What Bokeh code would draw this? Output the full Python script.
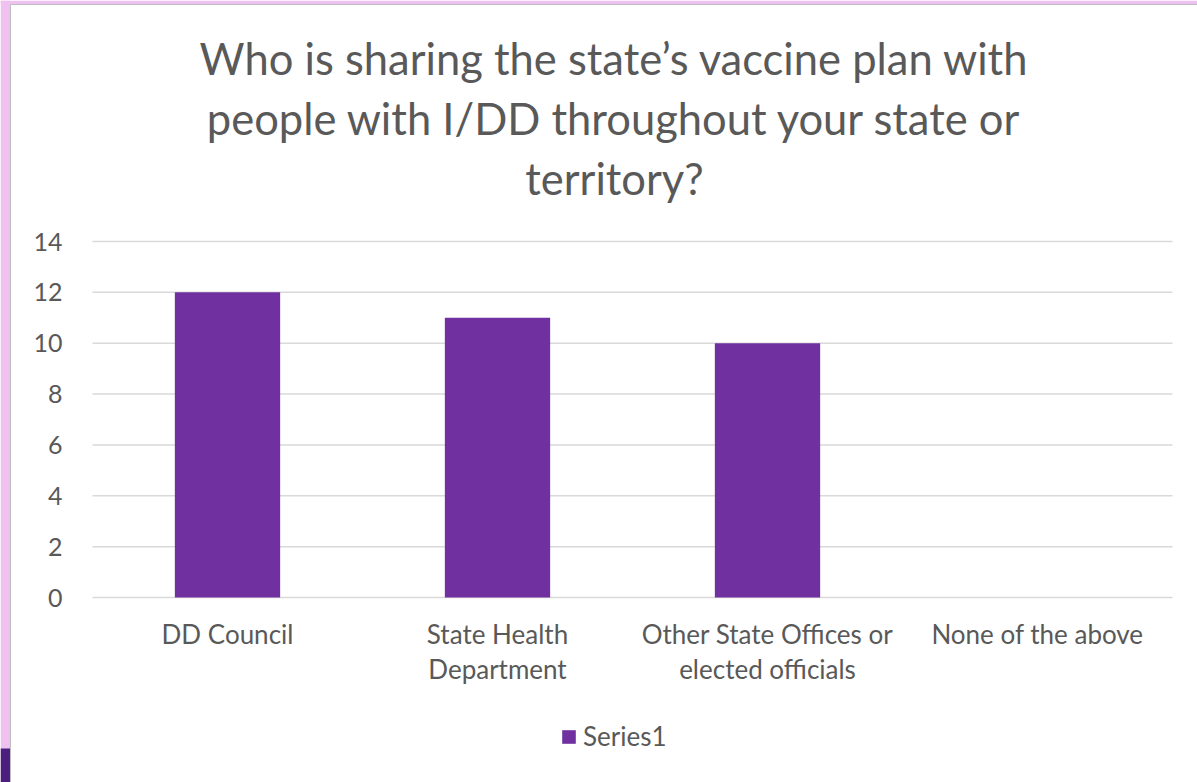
from bokeh.plotting import figure
from bokeh.models import Range1d, Legend, LegendItem
from bokeh.core.properties import value
from bokeh.embed import file_html
from bokeh.resources import INLINE

# ---- data ----
categories = ["DD Council", "State Health\nDepartment", "Other State Offices or\nelected officials", "None of the above"]
values = [12, 11, 10, 0]
series_name = "Series1"
title_lines = ["Who is sharing the state\u2019s vaccine plan with",
               "people with I/DD throughout your state or",
               "territory?"]
y_ticks = [0, 2, 4, 6, 8, 10, 12, 14]

# ---- style / layout ----
W, H = 1197, 782
FONT = "Lato"
TXT = "#595959"
BAR = "#7030A0"
LAV = "#EEC1F0"
DARK = "#4B1F7E"
GRID = "#d9d9d9"

# plot area in page pixels
PL, PR, PT, PB = 92, 1172, 241, 597
YMAX = max(y_ticks)
ncat = len(categories)
sx = (PR - PL) / ncat          # px per category
sy = (PB - PT) / YMAX          # px per unit


def dx(px):
    return (px - PL) / sx


def dy(py):
    return (PB - py) / sy


p = figure(x_range=Range1d(dx(0), dx(W)), y_range=Range1d(dy(H), dy(0)),
           width=W, height=H, output_backend="svg", toolbar_location=None,
           x_axis_location=None, y_axis_location=None, min_border=0)
p.background_fill_color = "white"
p.border_fill_color = "white"
p.outline_line_color = None
p.grid.visible = False

# decorative frame of the slide
p.quad(left=dx(0), right=dx(9.5), bottom=dy(H), top=dy(0), fill_color=LAV, line_color=None)
p.quad(left=dx(0), right=dx(W), bottom=dy(3.5), top=dy(0), fill_color=LAV, line_color=None)
p.quad(left=dx(0), right=dx(9.5), bottom=dy(H), top=dy(748), fill_color=DARK, line_color=None)
p.segment(x0=dx(10), y0=dy(4), x1=dx(W), y1=dy(4), line_color="#bdbdbd", line_width=1)
p.segment(x0=dx(10), y0=dy(4), x1=dx(10), y1=dy(H), line_color="#bdbdbd", line_width=1)

# horizontal grid lines
p.segment(x0=[0] * len(y_ticks), y0=y_ticks, x1=[ncat] * len(y_ticks), y1=y_ticks,
          line_color=GRID, line_width=1.5)

# bars
xs = [i + 0.5 for i in range(ncat)]
r = p.vbar(x=xs, top=values, width=0.39, fill_color=BAR, line_color=None)

# y tick labels
p.text(x=[dx(62)] * len(y_ticks), y=y_ticks, text=[str(t) for t in y_ticks],
       text_align="right", text_baseline="middle", text_font=value(FONT),
       text_font_size="25px", text_color=TXT)

# category labels (one glyph per text line)
lx, ly, lt = [], [], []
for xc, cat in zip(xs, categories):
    for i, line in enumerate(cat.split("\n")):
        lx.append(xc)
        ly.append(dy(633 + 35 * i))
        lt.append(line)
p.text(x=lx, y=ly, text=lt, text_align="center", text_baseline="alphabetic",
       text_font=value(FONT), text_font_size="26px", text_color=TXT)

# chart title
p.text(x=[dx(614)] * len(title_lines), y=[dy(57 + 60 * i) for i in range(len(title_lines))],
       text=title_lines, text_align="center", text_baseline="alphabetic",
       text_font=value(FONT), text_font_size="43.5px", text_color=TXT)

legend = Legend(items=[LegendItem(label=series_name, renderers=[r])], location=(560, 30),
                orientation="horizontal", glyph_width=17, glyph_height=17, label_text_font=FONT,
                label_text_font_size="26px", label_text_color=TXT, border_line_color=None,
                background_fill_alpha=0, padding=0, margin=0, label_standoff=6)
p.add_layout(legend)

open("out.html", "w").write(file_html(p, INLINE))
